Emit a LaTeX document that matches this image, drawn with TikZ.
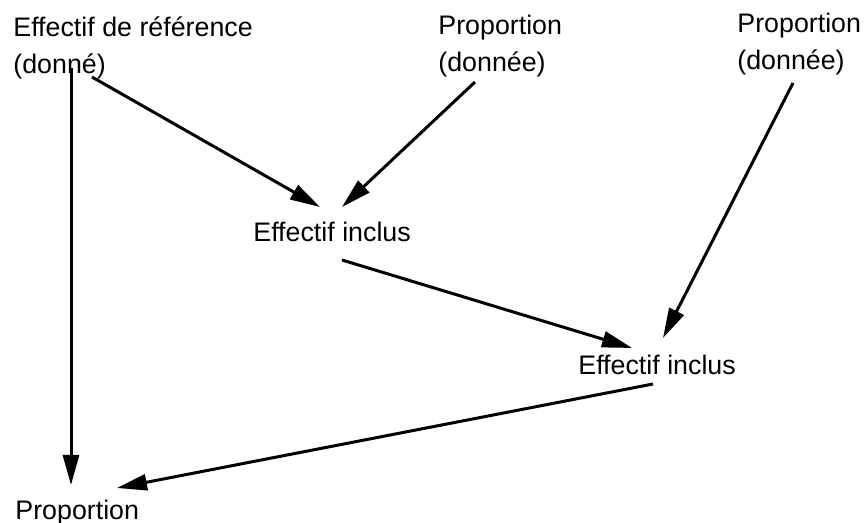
\documentclass[tikz,border=0pt]{standalone}
\usepackage{fontspec}
\setmainfont{Liberation Sans}
\usetikzlibrary{arrows.meta}
\tikzset{
  txt/.style={inner sep=0pt,anchor=base west,align=left,font=\fontsize{13.4}{18.5}\selectfont},
  fleche/.style={-{Triangle[length=15pt,width=8pt]},line width=1.5pt}
}
\begin{document}
\begin{tikzpicture}[x=0.5pt,y=-0.5pt]
   \useasboundingbox (0,0) rectangle (864,523);
   \node[txt] (ref) at (13,74) {Effectif de référence\\(donné)};
   \node[txt] (propA) at (438,72) {Proportion\\(donnée)};
   \node[txt] (propB) at (737,70) {Proportion\\(donnée)};
   \node[txt] (inclA) at (253,242) {Effectif inclus};
   \node[txt] (inclB) at (578,375) {Effectif inclus};
   \node[txt] (prop) at (15,520) {Proportion};
   \draw[fleche] ([shift={(58,-6)}]ref.base west) -- ([shift={(56,-35)}]prop.base west);
   \draw[fleche] ([shift={(79,3)}]ref.base west) -- ([shift={(67,-35)}]inclA.base west);
   \draw[fleche] ([shift={(37,10)}]propA.base west) -- ([shift={(89,-35)}]inclA.base west);
   \draw[fleche] ([shift={(89,18)}]inclA.base west) -- ([shift={(54,-27)}]inclB.base west);
   \draw[fleche] ([shift={(56,13)}]propB.base west) -- ([shift={(85,-37)}]inclB.base west);
   \draw[fleche] ([shift={(75,9)}]inclB.base west) -- ([shift={(102,-32)}]prop.base west);
\end{tikzpicture}
\end{document}
